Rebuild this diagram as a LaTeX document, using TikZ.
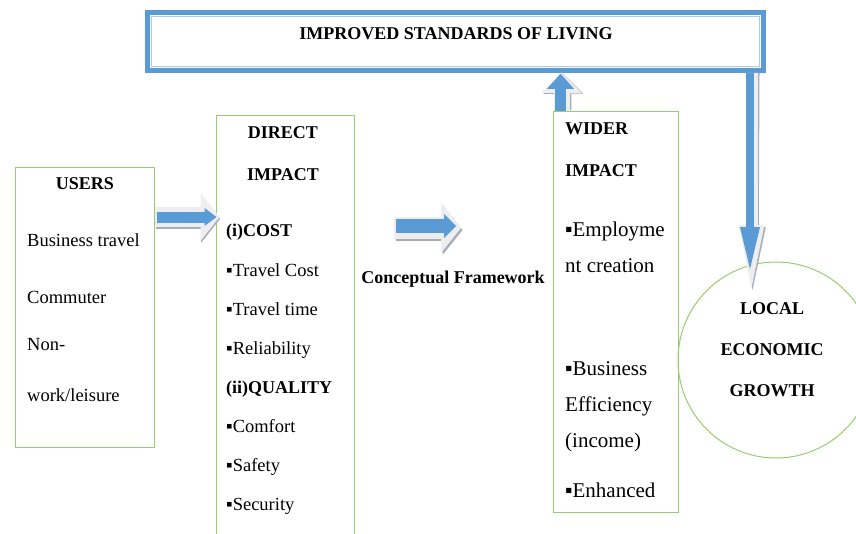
\documentclass[tikz,border=0pt]{standalone}
\usepackage{fontspec}
\setmainfont{Liberation Serif}
\usetikzlibrary{arrows.meta}
\definecolor{barblue}{RGB}{91,155,213}
\definecolor{lightblue}{RGB}{170,205,235}
\definecolor{boxgreen}{RGB}{150,205,110}
\definecolor{bevel}{RGB}{238,238,240}
\definecolor{beveldark}{RGB}{165,172,182}
\begin{document}
\begin{tikzpicture}[x=1pt,y=-1pt,
  gbox/.style={draw=boxgreen, line width=1pt, inner sep=0pt},
  hd/.style={font=\fontsize{18}{20}\selectfont\bfseries, inner sep=0pt},
  tx/.style={font=\fontsize{18.5}{20}\selectfont, inner sep=0pt},
  txl/.style={font=\fontsize{21}{24}\selectfont, inner sep=0pt},
  blockarrow/.style n args={3}{line width=#1, -{Triangle[width=#2, length=#3, line width=0pt]}},
  ]
\useasboundingbox (0,0) rectangle (856,533);

% boxes
\node[gbox, minimum width=139pt, minimum height=280pt] (users) at (84.5,307) {};
\node[gbox, minimum width=138pt, minimum height=440pt] (direct) at (285,335) {};
\node[gbox, minimum width=125pt, minimum height=401pt] (wider) at (615.5,311.5) {};
\node[gbox, circle, minimum size=196pt] (growth) at (776,360) {};
\node[draw=barblue, line width=4.5pt, minimum width=616pt, minimum height=58pt, inner sep=0pt] (top) at (455.5,41.5) {};
\draw[lightblue, line width=1pt] ([shift={(6,6)}]top.north west) rectangle ([shift={(-6,-6)}]top.south east);

% texts
\node[hd, anchor=base] (tt) at (456,39) {IMPROVED STANDARDS OF LIVING};

\node[hd, anchor=base] (u0) at (85,189) {USERS};
\node[tx, anchor=base west] (u1) at (27,246) {Business travel};
\node[tx, anchor=base west] (u2) at (27,303) {Commuter};
\node[tx, anchor=base west] (u3) at (27,350) {Non-};
\node[tx, anchor=base west] (u4) at (27,401) {work/leisure};

\node[hd, anchor=base] (d0) at (283,138) {DIRECT};
\node[hd, anchor=base] (d1) at (283,180) {IMPACT};
\node[hd, anchor=base west] (d2) at (226,236) {(i)COST};
\node[tx, anchor=base west] (d3) at (226,276) {▪Travel Cost};
\node[tx, anchor=base west] (d4) at (226,315) {▪Travel time};
\node[tx, anchor=base west] (d5) at (226,354) {▪Reliability};
\node[hd, anchor=base west] (d6) at (226,393) {(ii)QUALITY};
\node[tx, anchor=base west] (d7) at (226,432) {▪Comfort};
\node[tx, anchor=base west] (d8) at (226,471) {▪Safety};
\node[tx, anchor=base west] (d9) at (226,510) {▪Security};

\node[hd, anchor=base west] (w0) at (565,134) {WIDER};
\node[hd, anchor=base west] (w1) at (565,176) {IMPACT};
\node[txl, anchor=base west] (w2) at (565,236) {▪Employme};
\node[txl, anchor=base west] (w3) at (565,272) {nt creation};
\node[txl, anchor=base west] (w4) at (565,375) {▪Business};
\node[txl, anchor=base west] (w5) at (565,411) {Efficiency};
\node[txl, anchor=base west] (w6) at (565,447) {(income)};
\node[txl, anchor=base west] (w7) at (565,497) {▪Enhanced};

\node[hd, anchor=base] (g0) at (772,314) {LOCAL};
\node[hd, anchor=base] (g1) at (772,355) {ECONOMIC};
\node[hd, anchor=base] (g2) at (772,396) {GROWTH};

\node[hd, anchor=base] (cf) at (453,283) {Conceptual Framework};

% arrow coordinates
\coordinate (a1s) at (users.east |- 0,217);
\coordinate (a1e) at (direct.west |- 0,217);
\coordinate (m1s) at (394,226);
\coordinate (m1e) at (456,226);
\coordinate (a3s) at (wider.north -| 560.5,0);
\coordinate (a3e) at (a3s |- top.south);
\coordinate (a4s) at (top.south -| 750,0);
\coordinate (a4e) at (750,269);

% arrow 1: users -> direct
\draw[blockarrow={20pt}{48pt}{19pt}, beveldark] ([shift={(1.5,2)}]a1s) -- ([shift={(4.5,2)}]a1e);
\draw[blockarrow={20pt}{48pt}{19pt}, bevel] (a1s) -- ([xshift=4pt]a1e);
\draw[blockarrow={11pt}{18pt}{12pt}, barblue] ([xshift=2pt]a1s) -- ([xshift=1pt]a1e);

% middle arrow
\draw[blockarrow={22pt}{50pt}{20pt}, beveldark] ([shift={(1.5,4)}]m1s) -- ([shift={(6.5,4)}]m1e);
\draw[blockarrow={22pt}{50pt}{20pt}, bevel] ([shift={(0,2)}]m1s) -- ([shift={(5,2)}]m1e);
\draw[blockarrow={14pt}{24pt}{12pt}, barblue] ([xshift=2pt]m1s) -- (m1e);

% up arrow: wider -> top
\draw[blockarrow={16pt}{40pt}{20pt}, beveldark] ([shift={(3,0)}]a3s) -- ([shift={(2.5,1)}]a3e);
\draw[blockarrow={16pt}{40pt}{20pt}, bevel] ([shift={(1,0)}]a3s) -- ([shift={(1,0)}]a3e);
\draw[blockarrow={11pt}{27pt}{15pt}, barblue] (a3s) -- ([yshift=-1pt]a3e);

% down arrow: top -> growth
\draw[blockarrow={12pt}{26pt}{63pt}, beveldark] ([shift={(3.5,0)}]a4s) -- ([shift={(2.5,21)}]a4e);
\draw[blockarrow={12pt}{26pt}{63pt}, bevel] ([shift={(1.5,0)}]a4s) -- ([shift={(1.5,19)}]a4e);
\draw[blockarrow={8pt}{20pt}{42pt}, barblue] (a4s) -- (a4e);
\end{tikzpicture}
\end{document}
